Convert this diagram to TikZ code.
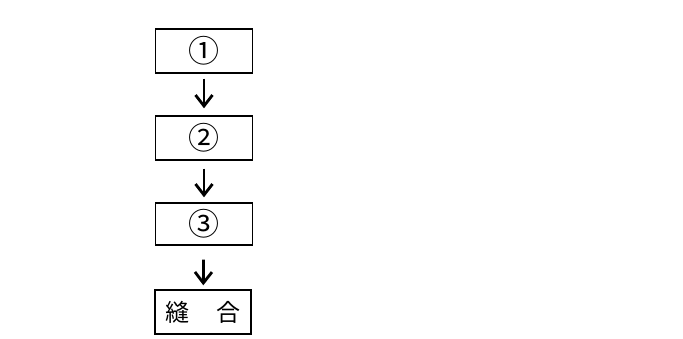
\documentclass[tikz,border=0pt]{standalone}
\usepackage{fontspec}
\usetikzlibrary{arrows.meta}
\newfontfamily\jpfont{Noto Sans CJK JP}

\tikzset{
  stepbox/.style={draw=black, line width=1.4pt, minimum width=97pt, minimum height=44pt, inner sep=0pt, font=\jpfont\fontsize{24pt}{26pt}\selectfont},
  numbox/.style={stepbox, font=\jpfont\fontsize{31pt}{33pt}\selectfont},
  flowarrow/.style={line width=2.8pt, -{Straight Barb[length=11pt, width=17pt, line width=2.8pt]}}
}

\begin{document}
\begin{tikzpicture}[x=1pt,y=-1pt]
\useasboundingbox (0,0) rectangle (683,339);
\node[numbox] (first) at (204,51) {①};
\node[numbox] (second) at (204,138) {②};
\node[numbox, minimum height=42pt] (third) at (204,224) {③};
\node[stepbox, minimum width=96pt] (suture) at (203,312) {縫\hspace{28pt}合};
% arrows between the steps
\draw[flowarrow, shorten <=5pt, shorten >=7pt] (first) -- (second);
\draw[flowarrow, shorten <=8pt, shorten >=5pt] (second) -- (third);
\draw[flowarrow, shorten <=14pt, shorten >=4pt] (third) -- (suture);
\end{tikzpicture}
\end{document}
